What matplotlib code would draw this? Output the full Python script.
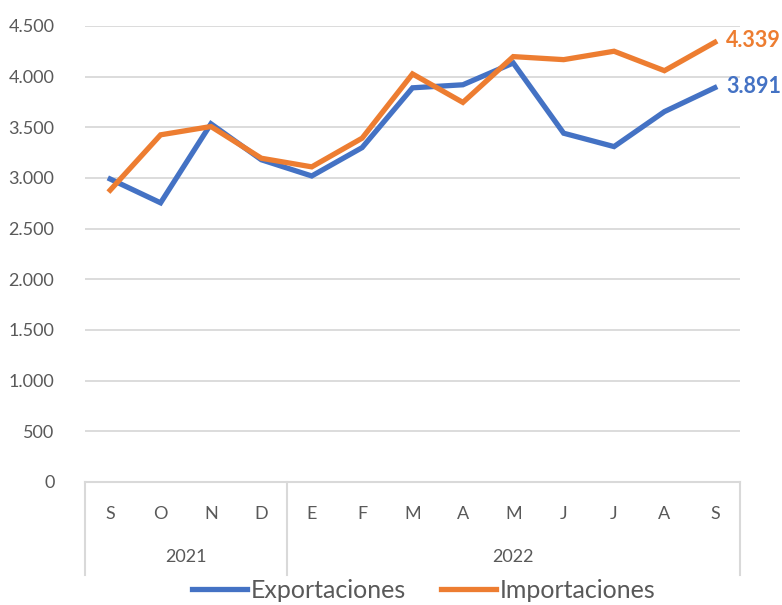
import matplotlib.pyplot as plt
from matplotlib.ticker import FuncFormatter, MultipleLocator
from matplotlib.lines import Line2D

# Datos (millones)
meses = ['S', 'O', 'N', 'D', 'E', 'F', 'M', 'A', 'M', 'J', 'J', 'A', 'S']
anios = ['2021', '2021', '2021', '2021', '2022', '2022', '2022', '2022',
         '2022', '2022', '2022', '2022', '2022']
exportaciones = [2990, 2755, 3535, 3180, 3020, 3300, 3890, 3920, 4135,
                 3442, 3310, 3655, 3891]
importaciones = [2880, 3426, 3508, 3195, 3110, 3393, 4027, 3746, 4198,
                 4168, 4251, 4059, 4339]

azul = '#4472C4'
naranja = '#ED7D31'
gris = '#595959'
linea = '#D9D9D9'

plt.rcParams['font.family'] = ['Lato', 'DejaVu Sans']

fig = plt.figure(figsize=(7.82, 6.05), dpi=100)
ax = fig.add_axes([85 / 782, 1 - 482 / 605, 655 / 782, 456 / 605])

x = list(range(len(meses)))
ax.plot(x, exportaciones, color=azul, lw=3.8, solid_joinstyle='miter')
ax.plot(x, importaciones, color=naranja, lw=3.8, solid_joinstyle='miter')

# etiquetas del ultimo dato
ax.annotate(f'{importaciones[-1]:,}'.replace(',', '.'), (x[-1], importaciones[-1]),
            xytext=(8, 1), textcoords='offset points', ha='left', va='center',
            color=naranja, fontsize=15.5, fontweight='bold', annotation_clip=False)
ax.annotate(f'{exportaciones[-1]:,}'.replace(',', '.'), (x[-1], exportaciones[-1]),
            xytext=(8, 1), textcoords='offset points', ha='left', va='center',
            color=azul, fontsize=15.5, fontweight='bold', annotation_clip=False)

ax.set_xlim(-0.5, len(meses) - 0.5)
ax.set_ylim(0, 4500)
ax.yaxis.set_major_locator(MultipleLocator(500))
ax.yaxis.set_major_formatter(FuncFormatter(lambda v, p: f'{int(v):,}'.replace(',', '.')))
ax.grid(axis='y', color=linea, lw=1.3)
ax.set_axisbelow(True)

for s in ['top', 'right', 'left']:
    ax.spines[s].set_visible(False)
ax.spines['bottom'].set_color(linea)
ax.spines['bottom'].set_linewidth(1.5)

ax.set_xticks(x)
ax.set_xticklabels(meses)
ax.tick_params(axis='x', length=0, pad=17, labelsize=13, labelcolor=gris)
ax.tick_params(axis='y', length=0, pad=22, labelsize=13, labelcolor=gris)

# eje de categorias de dos niveles
trans = ax.get_xaxis_transform()
grupos = []
for i, a in enumerate(anios):
    if not grupos or grupos[-1][0] != a:
        grupos.append([a, i, i])
    else:
        grupos[-1][2] = i
for a, i0, i1 in grupos:
    ax.text((i0 + i1) / 2, -0.165, a, transform=trans, ha='center', va='center',
            fontsize=13, color=gris)
    ax.plot([i0 - 0.5, i0 - 0.5], [0, -0.204], transform=trans, color=linea,
            lw=1.5, clip_on=False)
ax.plot([x[-1] + 0.5, x[-1] + 0.5], [0, -0.204], transform=trans, color=linea,
        lw=1.5, clip_on=False)

handles = [Line2D([], [], color=azul, lw=3.8), Line2D([], [], color=naranja, lw=3.8)]
fig.legend(handles, ['Exportaciones', 'Importaciones'], loc='center',
           bbox_to_anchor=(0.542, 1 - 590 / 605), ncol=2, frameon=False, fontsize=18,
           handlelength=2.2, handletextpad=0.15, columnspacing=1.4,
           labelcolor=gris, borderpad=0)

fig.savefig('out.png', dpi=100)
